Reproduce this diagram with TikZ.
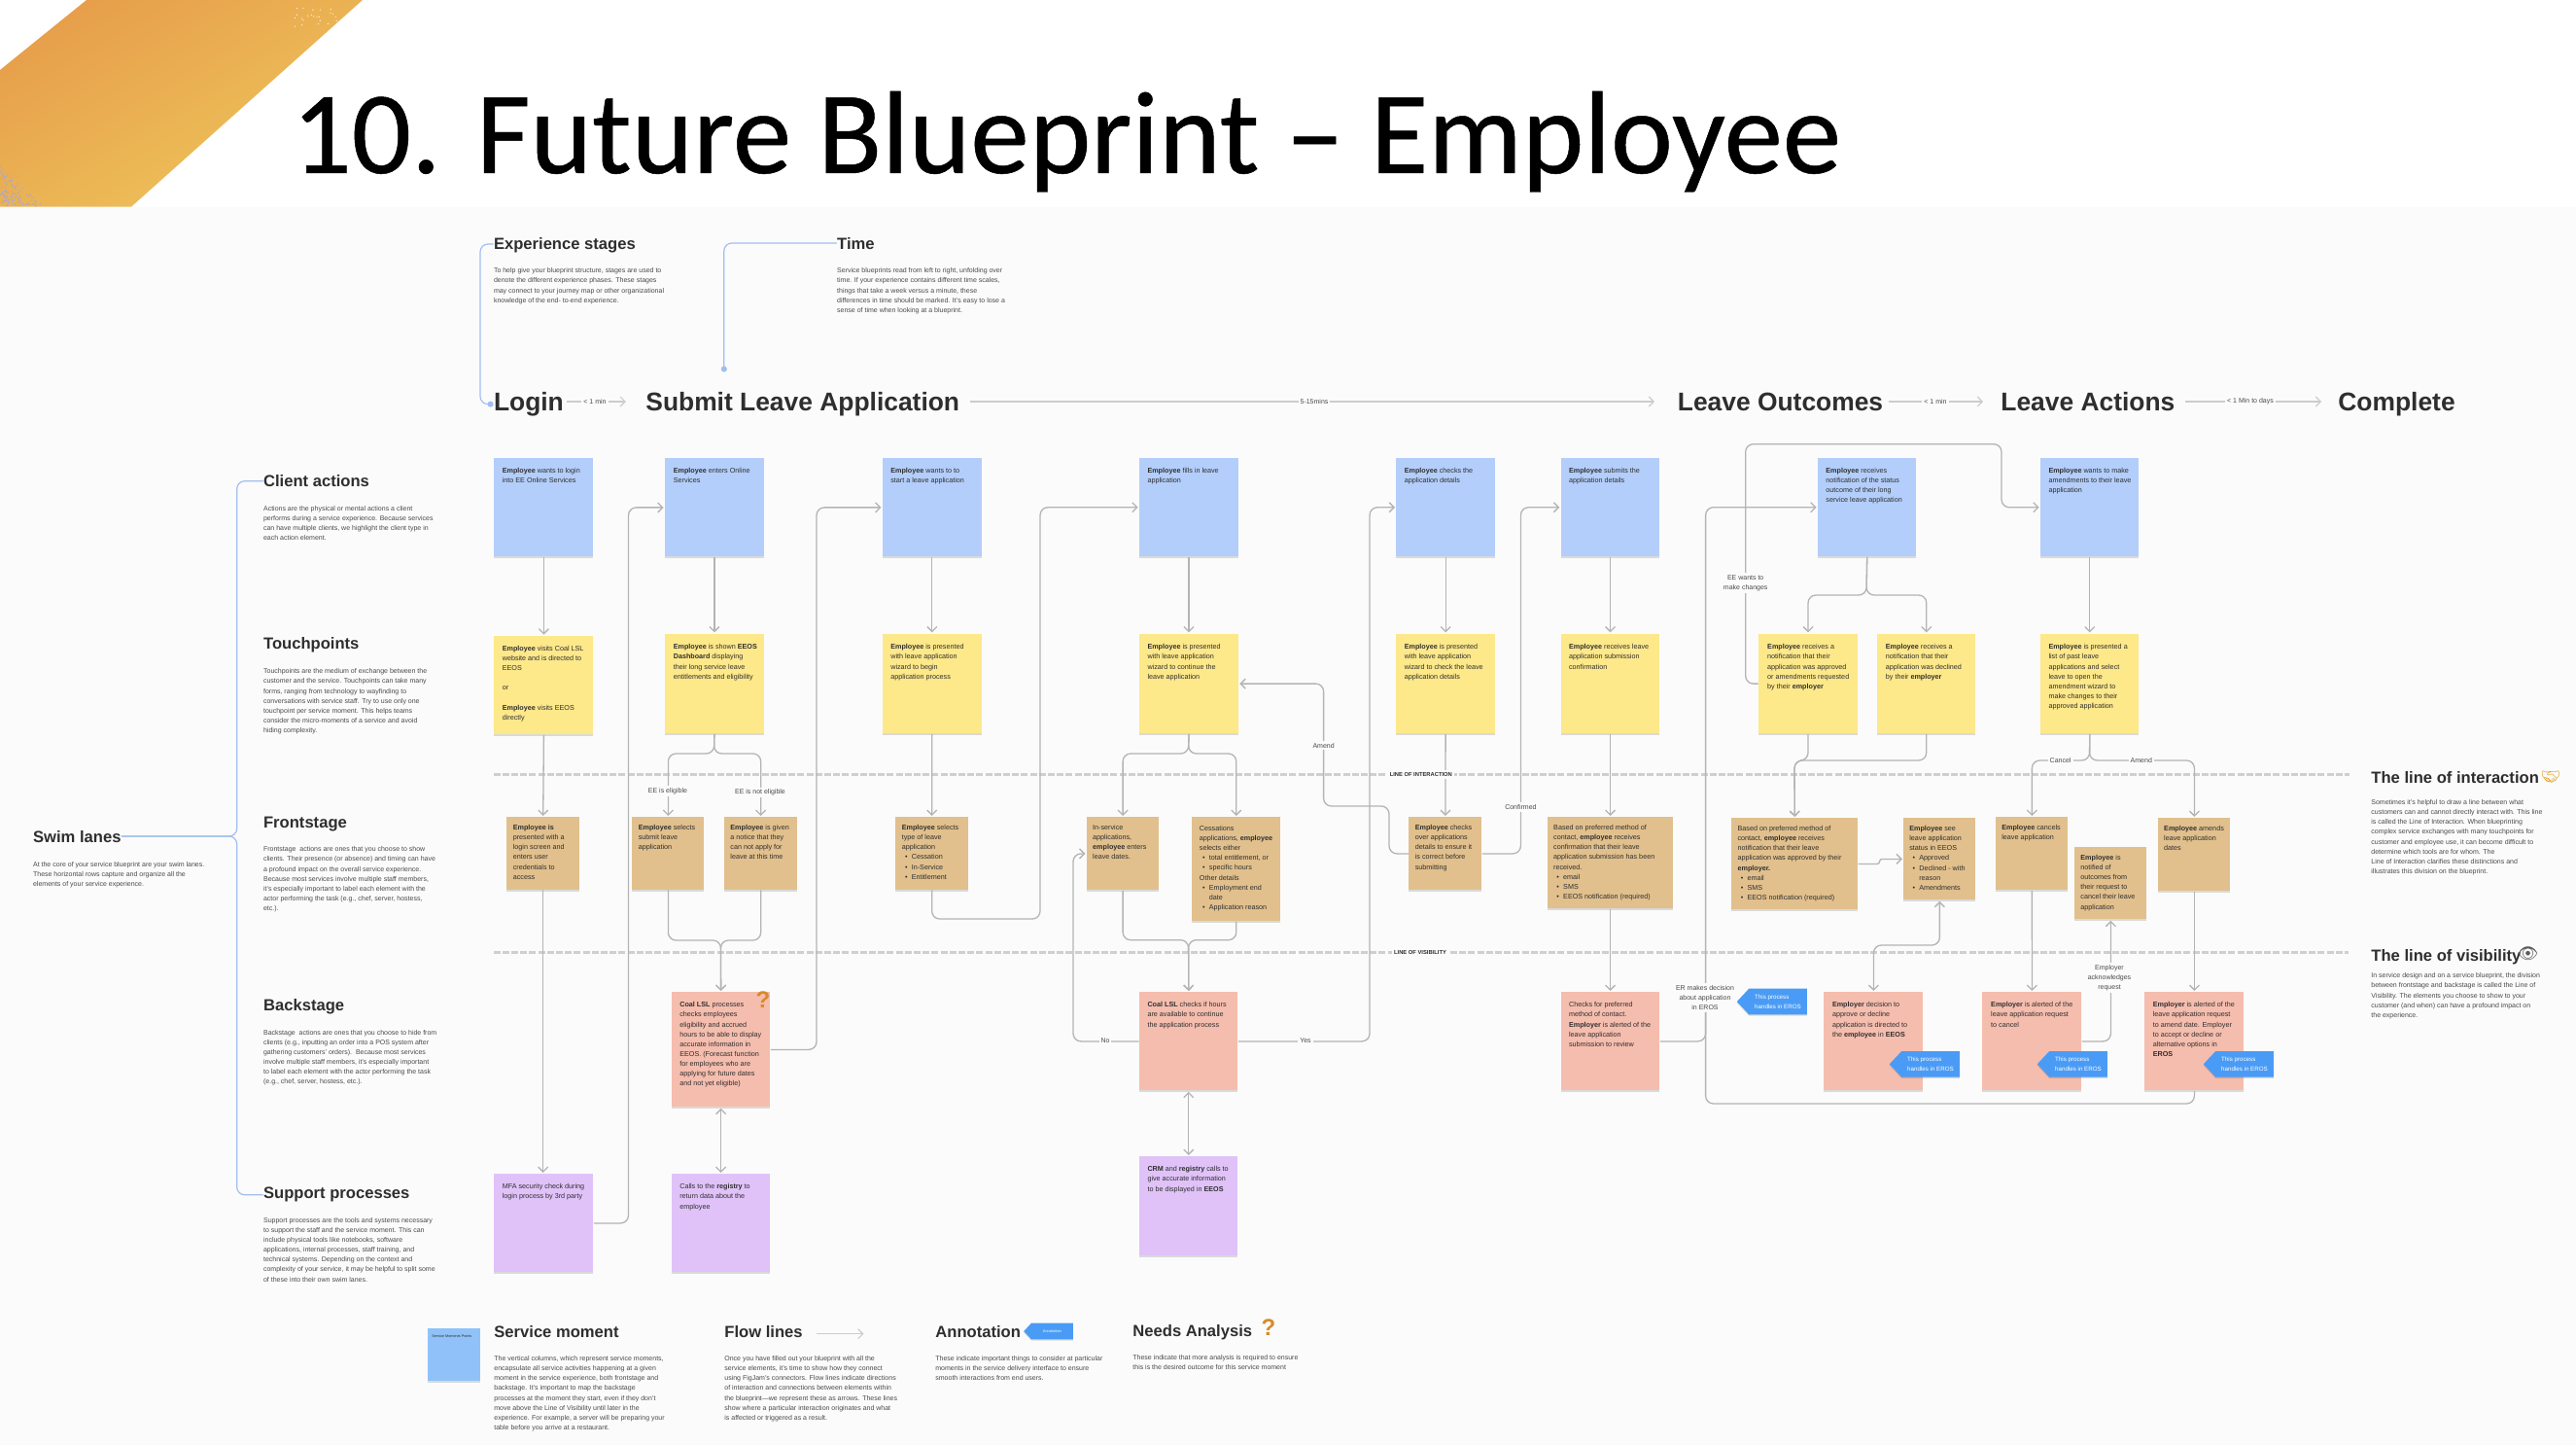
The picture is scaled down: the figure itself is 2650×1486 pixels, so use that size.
\documentclass[tikz,border=0pt]{standalone}
\usepackage{fontspec}
\setmainfont{Liberation Sans}
\newfontfamily\titlefont[FakeBold=0.4]{Carlito}
\newfontfamily\emojifont{Noto Emoji}
\usetikzlibrary{arrows.meta,shadows,shapes.symbols}
\definecolor{bgc}{HTML}{FBFBFB}
\definecolor{lnc}{HTML}{B4B4B4}
\definecolor{dashc}{HTML}{CFCFCF}
\definecolor{timec}{HTML}{CCCCCC}
\definecolor{calloutc}{HTML}{A2BEF0}
\definecolor{bluec}{HTML}{B3CEFA}
\definecolor{yellowc}{HTML}{FDE88A}
\definecolor{tanc}{HTML}{E1C08D}
\definecolor{redc}{HTML}{F5BDAE}
\definecolor{purplec}{HTML}{E0C2F9}
\definecolor{legendc}{HTML}{90C2F9}
\definecolor{annotc}{HTML}{4A9BF5}
\definecolor{headc}{HTML}{2E2E2E}
\definecolor{bodyc}{HTML}{4A4A4A}
\definecolor{bandA}{HTML}{E79F4B}
\definecolor{bandB}{HTML}{EEC55B}
\definecolor{askc}{HTML}{D98A2B}
\tikzset{
  sticknote/.style={drop shadow={shadow xshift=0pt,shadow yshift=-1pt,opacity=.13,fill=black},text=headc,font=\fontsize{3.6}{5.08}\selectfont},
  stblue/.style={sticknote,fill=bluec},
  styellow/.style={sticknote,fill=yellowc},
  sttan/.style={sticknote,fill=tanc},
  stred/.style={sticknote,fill=redc},
  stpurple/.style={sticknote,fill=purplec},
  flow/.style={draw=lnc,line width=.65pt,rounded corners=4pt},
  arr/.style={flow,-{Straight Barb[length=2.5pt,width=5pt]},shorten >=.5pt},
  arrboth/.style={flow,{Straight Barb[length=2.5pt,width=5pt]}-{Straight Barb[length=2.5pt,width=5pt]},shorten >=.5pt,shorten <=.5pt},
  timeflow/.style={draw=timec,line width=.55pt,-{Straight Barb[length=2.5pt,width=5pt]}},
  callout/.style={draw=calloutc,line width=.6pt,rounded corners=4pt},
  lanedash/.style={draw=dashc,line width=1.25pt,dash pattern=on 3.5pt off 1.1pt},
  lbl/.style={fill=bgc,inner sep=1pt,text=bodyc,align=center,font=\fontsize{3.5}{5.08}\selectfont},
  lanelbl/.style={fill=bgc,inner sep=1.2pt,text=headc,font=\fontsize{2.9}{4}\selectfont\bfseries},
  headtxt/.style={anchor=base west,inner sep=0pt,text=headc,font=\fontsize{8.3}{10}\selectfont\bfseries},
  stagetxt/.style={anchor=base west,inner sep=0pt,text=headc,font=\fontsize{13.2}{15}\selectfont\bfseries},
  desctxt/.style={anchor=base west,inner sep=0pt,text=bodyc,font=\fontsize{3.5}{5.08}\selectfont},
  annotnote/.style={signal,signal to=west,signal from=nowhere,signal pointer angle=94,fill=annotc,text=white,inner sep=0pt,minimum height=13.3pt,drop shadow={shadow xshift=0pt,shadow yshift=-.7pt,opacity=.13,fill=black},align=left,font=\fontsize{3.1}{4.9}\selectfont},
  askmark/.style={text=askc,inner sep=0pt,font=\fontsize{12}{12}\selectfont\bfseries}
}
\newcommand\sticky[9]{%
  \pgfmathsetmacro\stw{(#5-#3)/2}\pgfmathsetmacro\sth{(#6-#4)/2}%
  \node[#2,anchor=north west,minimum width=\stw pt,minimum height=\sth pt,inner sep=0pt] (#1) at (#3,#4)
    {\parbox[c][\sth pt][t]{\stw pt}{\vspace*{#8pt}\hspace*{#7pt}\begin{tabular}[t]{@{}l@{}}#9\end{tabular}}};%
}
\newcommand\blurb[6]{%
  \node[headtxt] (#1) at (#2,{#3+6}) {#5};%
  \node[desctxt] (#1d) at (#2,{#4+1.8}) {\begin{tabular}[t]{@{}l@{}}#6\end{tabular}};%
}
\newcommand\bul{\hspace*{1.6pt}\makebox[3.4pt][l]{\textbullet}}
\newcommand\cont{\hspace*{5pt}}
\begin{document}
\begin{tikzpicture}[x=.5pt,y=-.5pt]
\useasboundingbox (0,0) rectangle (2650,1486);
\fill[white] (0,0) rectangle (2650,1486);
\fill[bgc] (0,212.7) rectangle (2650,1486);
% corner band
\shade[left color=bandA,middle color=bandB,right color=bandB,shading angle=30] (89,0) -- (373,0) -- (135,212.7) -- (0,212.7) -- (0,72) -- cycle;
\pgfmathsetseed{7}
\foreach \i in {1,...,260}{\pgfmathsetmacro\dx{rnd*45}\pgfmathsetmacro\dy{170+rnd*42}\pgfmathsetmacro\keep{(\dx<(\dy-170)*1.05)?1:0}\ifnum\keep>0 \fill[gray!60!blue!50] (\dx,\dy) circle (.35pt);\fi}
\foreach \i in {1,...,25}{\fill[white,opacity=.8] ({303+rnd*45},{7+rnd*23}) circle (.35pt);}
\node[anchor=base west,inner sep=0pt,text=black,font=\titlefont\fontsize{60.5}{70}\selectfont] (title) at (300,178) {10. Future Blueprint – Employee};
% lane lines
\coordinate (loiL) at (507.6,796.3); \coordinate (loiR) at (2417,796.3);
\coordinate (lovL) at (507.6,979.3); \coordinate (lovR) at (2416,979.3);
\draw[lanedash] (loiL) -- (loiR);
\draw[lanedash] (lovL) -- (lovR);
% stage row
\node[stagetxt] (st1) at (507.6,422.4) {Login};
\node[stagetxt] (st2) at (664,422.4) {Submit Leave Application};
\node[stagetxt] (st3) at (1725.5,422.4) {Leave Outcomes};
\node[stagetxt] (st4) at (2058,422.4) {Leave Actions};
\node[stagetxt] (st5) at (2405,422.4) {Complete};
\coordinate (t1e) at (643.8,413); \coordinate (t2e) at (1702,413); \coordinate (t3e) at (2040,413); \coordinate (t4e) at (2388,413);
\draw[timeflow,shorten <=1.5pt] (st1.east |- t1e) -- (t1e);
\draw[timeflow,shorten <=5pt] (st2.east |- t2e) -- (t2e);
\draw[timeflow,shorten <=2.5pt] (st3.east |- t3e) -- (t3e);
\draw[timeflow,shorten <=5pt] (st4.east |- t4e) -- (t4e);
\node[lbl] (tl1) at (612,413) {< 1 min};
\node[lbl] (tl2) at (1352,413) {5-15mins};
\node[lbl] (tl3) at (1991,413) {< 1 min};
\node[lbl] (tl4) at (2315,413) {< 1 Min to days};
% explanatory blurbs
\blurb{hexp}{507.6}{251}{279}{Experience stages}{To help give your blueprint structure, stages are used to\\denote the different experience phases. These stages\\may connect to your journey map or other organizational\\knowledge of the end- to-end experience.}
\blurb{htime}{860.8}{251}{279}{Time}{Service blueprints read from left to right, unfolding over\\time. If your experience contains different time scales,\\things that take a week versus a minute, these\\differences in time should be marked. It's easy to lose a\\sense of time when looking at a blueprint.}
\blurb{hclient}{270.7}{494.7}{523.3}{Client actions}{Actions are the physical or mental actions a client\\performs during a service experience. Because services\\can have multiple clients, we highlight the client type in\\each action element.}
\blurb{htouch}{270.7}{662}{691}{Touchpoints}{Touchpoints are the medium of exchange between the\\customer and the service. Touchpoints can take many\\forms, ranging from technology to wayfinding to\\conversations with service staff. Try to use only one\\touchpoint per service moment. This helps teams\\consider the micro-moments of a service and avoid\\hiding complexity.}
\blurb{hfront}{270.7}{845.3}{874}{Frontstage}{Frontstage\ \ actions are ones that you choose to show\\clients. Their presence (or absence) and timing can have\\a profound impact on the overall service experience.\\Because most services involve multiple staff members,\\it's especially important to label each element with the\\actor performing the task (e.g., chef, server, hostess,\\etc.).}
\blurb{hback}{270.7}{1033.8}{1062.3}{Backstage}{Backstage\ \ actions are ones that you choose to hide from\\clients (e.g., inputting an order into a POS system after\\gathering customers' orders).\ \ Because most services\\involve multiple staff members, it's especially important\\to label each element with the actor performing the task\\(e.g., chef, server, hostess, etc.).}
\blurb{hsupport}{270.7}{1226.8}{1255.3}{Support processes}{Support processes are the tools and systems necessary\\to support the staff and the service moment. This can\\include physical tools like notebooks, software\\applications, internal processes, staff training, and\\technical systems. Depending on the context and\\complexity of your service, it may be helpful to split some\\of these into their own swim lanes.}
\blurb{hswim}{33.7}{860.7}{889.3}{Swim lanes}{At the core of your service blueprint are your swim lanes.\\These horizontal rows capture and organize all the\\elements of your service experience.}
\blurb{hmoment}{508}{1369}{1397.7}{Service moment}{The vertical columns, which represent service moments,\\encapsulate all service activities happening at a given\\moment in the service experience, both frontstage and\\backstage. It's important to map the backstage\\processes at the moment they start, even if they don't\\move above the Line of Visibility until later in the\\experience. For example, a server will be preparing your\\table before you arrive at a restaurant.}
\blurb{hflow}{745}{1369}{1397.7}{Flow lines}{Once you have filled out your blueprint with all the\\service elements, it's time to show how they connect\\using FigJam's connectors. Flow lines indicate directions\\of interaction and connections between elements within\\the blueprint—we represent these as arrows. These lines\\show where a particular interaction originates and what\\is affected or triggered as a result.}
\blurb{hannot}{962}{1369}{1397.7}{Annotation}{These indicate important things to consider at particular\\moments in the service delivery interface to ensure\\smooth interactions from end users.}
\blurb{hneeds}{1165}{1368}{1396.7}{Needs Analysis}{These indicate that more analysis is required to ensure\\this is the desired outcome for this service moment}
\blurb{hloi}{2439}{799.7}{825.7}{The line of interaction}{Sometimes it's helpful to draw a line between what\\customers can and cannot directly interact with. This line\\is called the Line of Interaction. When blueprinting\\complex service exchanges with many touchpoints for\\customer and employee use, it can become difficult to\\determine which tools are for whom. The\\Line of Interaction clarifies these distinctions and\\illustrates this division on the blueprint.}
\blurb{hlov}{2439}{982.7}{1004}{The line of visibility}{In service design and on a service blueprint, the division\\between frontstage and backstage is called the Line of\\Visibility. The elements you choose to show to your\\customer (and when) can have a profound impact on\\the experience.}
\node[inner sep=0pt,text=askc!80!yellow,font=\emojifont\fontsize{8}{10}\selectfont] (ehand) at (2624,799) {^^^^^^01f91d};
\node[inner sep=0pt,text=black!65,font=\emojifont\fontsize{8.5}{10}\selectfont] (eeye) at (2600.6,981) {^^^^^^01f441};
% callout lines
\coordinate (cexp) at (494,251); \coordinate (ctime) at (744.8,250); \coordinate (ctimeend) at (744.8,382.5);
\draw[callout,-{Circle[length=3pt]}] (hexp.west |- cexp) -- (cexp) -- (cexp |- st1.west) -- (st1.west);
\draw[callout,-{Circle[length=3pt]}] (htime.west |- ctime) -- (ctime) -- (ctimeend);
\coordinate (csw) at (243.7,860);
\draw[callout] (hswim.east |- csw) -- (csw) -- (csw |- hclient.west) -- (hclient.west);
\draw[callout] (hswim.east |- csw) -- (csw) -- (csw |- hsupport.west) -- (hsupport.west);
% stickies: column 1
\sticky{b1}{stblue}{508}{471}{610}{572}{4.2}{4.1}{\textbf{Employee} wants to login\\into EE Online Services}
\sticky{y1}{styellow}{508}{653.6}{610}{755}{4.2}{4.1}{\textbf{Employee} visits Coal LSL\\website and is directed to\\EEOS\\ \\or\\ \\\textbf{Employee} visits EEOS\\directly}
\sticky{t1}{sttan}{521}{840}{595.6}{914.6}{3.2}{3}{\textbf{Employee is}\\presented with a\\login screen and\\enters user\\credentials to\\access}
\sticky{p1}{stpurple}{508}{1207}{610}{1308}{4.2}{4.1}{MFA security check during\\login process by 3rd party}
% column 2
\sticky{b2}{stblue}{683.6}{471}{785.4}{572}{4.4}{4.1}{\textbf{Employee} enters Online\\Services}
\sticky{y2}{styellow}{683.6}{651.4}{785.4}{754}{4.4}{4.4}{\textbf{Employee} is shown \textbf{EEOS}\\\textbf{Dashboard} displaying\\their long service leave\\entitlements and eligibility}
\sticky{t2}{sttan}{650}{840}{724}{914.6}{3.2}{3}{\textbf{Employee} selects\\submit leave\\application}
\sticky{t3}{sttan}{745}{840}{819.5}{914.6}{3}{3}{\textbf{Employee} is given\\a notice that they\\can not apply for\\leave at this time}
\sticky{r1}{stred}{690.5}{1020}{792}{1138}{4.2}{4.1}{\textbf{Coal LSL} processes\\checks employees\\eligibility and accrued\\hours to be able to display\\accurate information in\\EEOS. (Forecast function\\for employees who are\\applying for future dates\\and not yet eligible)}
\sticky{p2}{stpurple}{690.5}{1207}{792}{1308}{4.2}{4.1}{Calls to the \textbf{registry} to\\return data about the\\employee}
% column 3
\sticky{b3}{stblue}{907.5}{471}{1009.3}{572}{4.2}{4.1}{\textbf{Employee} wants to to\\start a leave application}
\sticky{y3}{styellow}{907.5}{651.4}{1009.3}{754}{4.2}{4.4}{\textbf{Employee} is presented\\with leave application\\wizard to begin\\application process}
\sticky{t4}{sttan}{921}{840}{995.5}{914.6}{3.2}{3}{\textbf{Employee} selects\\type of leave\\application\\\bul Cessation\\\bul In-Service\\\bul Entitlement}
% column 4
\sticky{b4}{stblue}{1171.7}{470.7}{1273.5}{572}{4.2}{4.1}{\textbf{Employee} fills in leave\\application}
\sticky{y4}{styellow}{1171.7}{651.4}{1273.5}{754}{4.2}{4.4}{\textbf{Employee} is presented\\with leave application\\wizard to continue the\\leave application}
\sticky{t5}{sttan}{1117.4}{840}{1192}{915}{3.2}{3}{In-service\\applications,\\\textbf{employee} enters\\leave dates.}
\sticky{t6}{sttan}{1225.7}{840}{1317}{946.7}{3.9}{3.4}{Cessations\\applications, \textbf{employee}\\selects either\\\bul total entitlement, or\\\bul specific hours\\Other details\\\bul Employment end\\\cont date\\\bul Application reason}
\sticky{r2}{stred}{1171.7}{1020}{1273}{1121}{4.2}{4.1}{\textbf{Coal LSL} checks if hours\\are available to continue\\the application process}
\sticky{p3}{stpurple}{1171.7}{1189}{1273}{1290.7}{4.2}{4.1}{\textbf{CRM} and \textbf{registry} calls to\\give accurate information\\to be displayed in \textbf{EEOS}}
% column 5
\sticky{b5}{stblue}{1436}{470.7}{1537.6}{572}{4.2}{4.1}{\textbf{Employee} checks the\\application details}
\sticky{y5}{styellow}{1436}{651.4}{1537.6}{754}{4.2}{4.4}{\textbf{Employee} is presented\\with leave application\\wizard to check the leave\\application details}
\sticky{t7}{sttan}{1449}{840}{1524}{915}{3.2}{3}{\textbf{Employee} checks\\over applications\\details to ensure it\\is correct before\\submitting}
% column 6
\sticky{b6}{stblue}{1605.3}{470.7}{1707}{572}{4.2}{4.1}{\textbf{Employee} submits the\\application details}
\sticky{y6}{styellow}{1605.3}{651.4}{1707}{754}{4.2}{4.4}{\textbf{Employee} receives leave\\application submission\\confirmation}
\sticky{t8}{sttan}{1592}{840}{1721}{933.7}{2.9}{3}{Based on preferred method of\\contact, \textbf{employee} receives\\confirmation that their leave\\application submission has been\\received.\\\bul email\\\bul SMS\\\bul EEOS notification (required)}
\sticky{r3}{stred}{1605.3}{1020}{1707}{1121}{4.2}{4.1}{Checks for preferred\\method of contact.\\\textbf{Employer} is alerted of the\\leave application\\submission to review}
% column 7
\sticky{b7}{stblue}{1869.6}{470.7}{1971}{572}{4.2}{4.1}{\textbf{Employee} receives\\notification of the status\\outcome of their long\\service leave application}
\sticky{y7}{styellow}{1808.6}{651.4}{1910.7}{754}{4.6}{4.4}{\textbf{Employee} receives a\\notification that their\\application was approved\\or amendments requested\\by their \textbf{employer}}
\sticky{y8}{styellow}{1930.7}{651.4}{2032}{754}{4.4}{4.4}{\textbf{Employee} receives a\\notification that their\\application was declined\\by their \textbf{employer}}
\sticky{t9}{sttan}{1781}{841}{1910.7}{935}{3.1}{3}{Based on preferred method of\\contact, \textbf{employee} receives\\notification that their leave\\application was approved by their\\\textbf{employer.}\\\bul email\\\bul SMS\\\bul EEOS notification (required)}
\sticky{t10}{sttan}{1957.9}{841}{2032}{925}{3}{3}{\textbf{Employee} see\\leave application\\status in EEOS\\\bul Approved\\\bul Declined - with\\\cont reason\\\bul Amendments}
\sticky{r4}{stred}{1876}{1020}{1978}{1121}{4.3}{4.1}{\textbf{Employer} decision to\\approve or decline\\application is directed to\\the \textbf{employee} in \textbf{EEOS}}
% column 8
\sticky{b8}{stblue}{2098.7}{470.7}{2200}{572}{4.2}{4.1}{\textbf{Employee} wants to make\\amendments to their leave\\application}
\sticky{y9}{styellow}{2098.7}{651.4}{2200}{754}{4.2}{4.4}{\textbf{Employee} is presented a\\list of past leave\\applications and select\\leave to open the\\amendment wizard to\\make changes to their\\approved application}
\sticky{t11}{sttan}{2052.9}{840}{2127}{915}{3}{3}{\textbf{Employee} cancels\\leave application}
\sticky{t12}{sttan}{2134}{870.7}{2208}{945}{3}{3}{\textbf{Employee} is\\notified of\\outcomes from\\their request to\\cancel their leave\\application}
\sticky{t13}{sttan}{2220}{841}{2294}{915.7}{2.9}{3}{\textbf{Employee} amends\\leave application\\dates}
\sticky{r5}{stred}{2039}{1020}{2141}{1121}{4.4}{4.1}{\textbf{Employer} is alerted of the\\leave application request\\to cancel}
\sticky{r6}{stred}{2206}{1020}{2308}{1121}{4.2}{4.1}{\textbf{Employer} is alerted of the\\leave application request\\to amend date. Employer\\to accept or decline or\\alternative options in\\\textbf{EROS}}
% straight flows
\draw[arr] (b1) -- (y1);
\draw[arr] (y1.south) -- (t1.north);
\draw[arr] (t1.south) -- (t1.south |- p1.north);
\draw[arr] (b2) -- (y2);
\draw[arr] (b3) -- (y3);
\draw[arr] (y3) -- (t4);
\draw[arr] (b4) -- (y4);
\draw[arr] (b5) -- (y5);
\draw[arr] (y5) -- (t7);
\draw[arr] (b6) -- (y6);
\draw[arr] (y6) -- (y6 |- t8.north);
\draw[arr] (t8.south -| r3) -- (r3.north);
\draw[arr] (b8) -- (y9);
\draw[arrboth] (r1) -- (p2);
\draw[arrboth] (r2) -- (p3);
\draw[arr] (t11) -- (r5);
\draw[arr] (t13) -- (r6);
% branch / merge levels
\coordinate (sA) at (734.5,775); \coordinate (mA) at (741.4,967);
\draw[arr] (y2.south) -- (sA) -- (t2.north |- sA) -- (t2.north);
\draw[arr] (y2.south) -- (sA) -- (t3.north |- sA) -- (t3.north);
\draw[arr] (t2.south) -- (t2.south |- mA) -- (mA) -- (r1.north);
\draw[arr] (t3.south) -- (t3.south |- mA) -- (mA) -- (r1.north);
\coordinate (sB) at (1222.6,775); \coordinate (mB) at (1222.6,966.7);
\draw[arr] (y4.south) -- (sB) -- (t5.north |- sB) -- (t5.north);
\draw[arr] (y4.south) -- (sB) -- (t6.north |- sB) -- (t6.north);
\draw[arr] (t5.south) -- (t5.south |- mB) -- (mB) -- (r2.north);
\draw[arr] (t6.south) -- (t6.south |- mB) -- (mB) -- (r2.north);
\coordinate (sC) at (1920,612);
\draw[arr] (b7.south) -- (sC) -- (y7.north |- sC) -- (y7.north);
\draw[arr] (b7.south) -- (sC) -- (y8.north |- sC) -- (y8.north);
\coordinate (mC) at (1846,782);
\draw[arr] (y7.south) -- (y7.south |- mC) -- (mC) -- (t9.north);
\draw[arr] (y8.south) -- (y8.south |- mC) -- (mC) -- (t9.north);
\coordinate (sD) at (2149.5,782);
\draw[arr] (y9.south) -- (sD) -- (t11.north |- sD) -- (t11.north);
\draw[arr] (y9.south) -- (sD) -- (t13.north |- sD) -- (t13.north);
% long routes
\coordinate (v1) at (646.5,522); \coordinate (v2) at (840,522); \coordinate (v3) at (1070,945); \coordinate (v4) at (1409,521.3);
\draw[arr] (p1.east) -- (v1 |- p1.east) -- (v1 |- b2.west) -- (b2.west);
\draw[arr] (r1.east) -- (v2 |- r1.east) -- (v2 |- b3.west) -- (b3.west);
\draw[arr] (t4.south) -- (t4.south |- v3) -- (v3) -- (v3 |- b4.west) -- (b4.west);
\draw[arr] (r2.east) -- (v4 |- r2.east) -- (v4 |- b5.west) -- (b5.west);
\coordinate (v5) at (1104,1070);
\draw[arr] (r2.west) -- (v5 |- r2.west) -- (v5 |- t5.west) -- (t5.west);
\coordinate (v6) at (1429,829); \coordinate (v7) at (1361.6,829);
\draw[arr] (t7.west) -- (v6 |- t7.west) -- (v6) -- (v7) -- (v7 |- y4.east) -- (y4.east);
\coordinate (v8) at (1564.4,877);
\draw[arr] (t7.east) -- (v8 |- t7.east) -- (v8 |- b6.west) -- (b6.west);
\coordinate (ct1) at (1795.7,456.7); \coordinate (ct2) at (2059,456.7);
\draw[arr] (y7.west) -- (ct1 |- y7.west) -- (ct1) -- (ct2) -- (ct2 |- b8.west) -- (b8.west);
\coordinate (bx) at (1754.6,1135); \coordinate (bjoin) at (1754.6,1035);
\draw[arr] (r6.south) -- (r6.south |- bx) -- (bx) -- (bx |- b7.west) -- (b7.west);
\draw[flow] (r3.east) -- (bx |- r3.east) -- (bjoin);
\coordinate (jg) at (1933.6,888);
\draw[arr,rounded corners=1.2pt] (t9.east) -- (jg |- t9.east) -- (jg |- t10.west) -- (t10.west);
\coordinate (rt) at (1994.6,972);
\draw[arrboth] (r4.north) -- (r4.north |- rt) -- (t10.south |- rt) -- (t10.south);
\draw[arr] (r5.east) -- (t12.south |- r5.east) -- (t12.south);
% connector labels
\node[lbl] (l1) at (687,813.6) {EE is eligible};
\node[lbl] (l2) at (782,815) {EE is not eligible};
\node[lbl] (l3) at (1137,1070) {No};
\node[lbl] (l4) at (1343,1070) {Yes};
\node[lbl] (l5) at (1361.6,766.7) {Amend};
\node[lbl] (l6) at (1564.4,830) {Confirmed};
\node[lbl] (l7) at (1795.7,599.7) {EE wants to\\make changes};
\node[lbl] (l8) at (1754,1026) {ER makes decision\\about application\\in EROS};
\node[lbl] (l9) at (2119.6,782) {Cancel};
\node[lbl] (l10) at (2202.8,782) {Amend};
\node[lbl] (l11) at (2170,1005.7) {Employer\\acknowledges\\request};
\node[lanelbl] (loi) at (1461.8,796.3) {LINE OF INTERACTION};
\node[lanelbl] (lov) at (1461,979.3) {LINE OF VISIBILITY};
% annotations
\node[annotnote,minimum width=36pt] (a1) at (1829,1030) {This process\\handles in EROS};
\node[annotnote,minimum width=36pt] (a2) at (1986,1094.3) {This process\\handles in EROS};
\node[annotnote,minimum width=36pt] (a3) at (2138,1094.3) {This process\\handles in EROS};
\node[annotnote,minimum width=36pt] (a4) at (2309,1094.3) {This process\\handles in EROS};
\node[askmark] (q1) at (785,1028) {?};
% legend
\sticky{leg}{sticknote,fill=legendc,font=\fontsize{1.9}{3}\selectfont}{440}{1365.7}{494}{1419.7}{2}{2.4}{Service Moments Points}
\coordinate (fl1) at (839.5,1371.7); \coordinate (fl2) at (888.5,1371.7);
\draw[timeflow] (fl1) -- (fl2);
\node[annotnote,minimum height=8.3pt,minimum width=25.3pt,font=\fontsize{2}{3}\selectfont] (a5) at (1082.4,1369) {Annotation};
\node[askmark] (q2) at (1305,1365) {?};
\end{tikzpicture}
\end{document}
